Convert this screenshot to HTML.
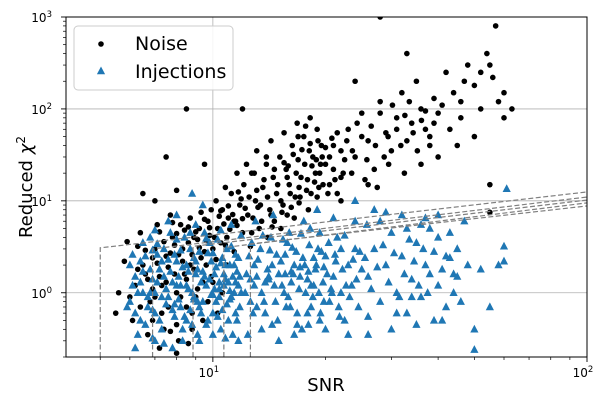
<!DOCTYPE html>
<html><head><meta charset="utf-8"><style>
body{margin:0;background:#fff}
svg{display:block;font-family:"DejaVu Sans","Liberation Sans",sans-serif}
</style></head><body>
<svg id="c" width="609" height="405"></svg>
<script>
const noiseSnr=[6.2,6.5,6.8,7.0,7.2,7.5,7.8,8.0,8.3,8.6,8.9,9.2,9.5,9.8,6.0,6.3,6.6,6.9,7.3,7.6,7.9,8.2,8.5,8.8,9.1,9.4,9.7,10.0,6.1,6.4,7.1,7.4,7.7,8.1,8.4,8.7,9.0,9.3,9.6,9.9,5.6,5.8,5.5,5.9,6.7,7.2,8.0,8.6,
10.3,10.6,10.9,11.2,11.5,11.8,12.1,12.4,12.7,13.0,13.3,13.6,13.9,14.2,14.5,14.8,15.1,15.4,15.7,16.0,16.3,16.6,16.9,17.2,17.5,17.8,18.1,18.4,18.7,19.0,19.3,19.6,10.5,11.0,11.4,12.0,12.6,13.2,14.0,14.6,15.2,15.8,16.5,17.0,18.0,19.0,10.2,10.8,11.6,12.3,13.1,14.3,15.5,16.8,18.2,
20,21,22,23,24,25,26,27,28,29,30,31,32,33,34,35,36,37,38,39,40,42,44,46,48,50,52,54,56,58,60,63,20.5,21.5,22.5,23.5,25.5,27.5,29.5,32.5,36,40,45,50,55,57,28,33,12,8.5,7.5,9.5,6.5,7,8,24,26,22,55,
7.1,7.4,7.7,8.0,8.3,8.6,8.9,9.2,9.5,9.8,10.1,10.4,10.7,11.0,11.3,11.6,11.9,12.2,7.2,7.5,7.8,8.1,8.4,8.7,9.0,9.3,9.6,9.9,10.2,10.5,10.8,11.1,11.4,11.7,12.0,6.3,6.6,6.9,6.4,6.7,7.0,7.3,7.6,7.9,8.2,8.5,8.8,9.1,9.4,9.7,10.0,10.3,10.6,10.9,8.0,8.8,6.9,7.7,
12.5,12.8,13.1,13.4,13.7,14.0,14.3,14.6,14.9,15.2,15.5,15.8,16.1,16.4,16.7,17.0,17.3,17.6,17.9,18.2,18.5,18.8,19.1,19.4,19.7,20.0,20.5,21.0,21.5,22.0,12.7,13.5,14.4,15.3,16.2,17.1,18.3,19.2,20.3,21.2,22.3,16.9,17.7,19.5,13.9,12.9,15.9,18.9,20.8,
22.8,23.6,24.3,25.0,25.8,26.5,27.2,28.0,28.7,29.4,30.2,31.0,31.8,32.6,33.5,34.3,35.2,36.1,37.0,38.0,39.0,41.0,43.0,46.0,47,52,55,60];
const noiseChi=[1.2,2.0,0.8,3.0,1.5,2.5,4.0,1.0,2.2,3.5,1.8,5.0,2.8,4.2,0.9,3.2,1.6,2.4,0.6,1.9,3.3,5.5,0.7,2.6,3.8,1.3,6.0,3.0,0.5,4.5,5.5,0.4,7.0,0.3,4.8,6.5,0.9,7.5,2.0,8.0,1.0,2.2,0.6,3.6,0.35,0.25,0.22,0.28,
5,8,4,12,6,9,15,7,20,10,5,14,25,8,18,12,30,9,22,15,40,11,28,18,50,13,35,24,16,60,20,30,3.5,6.5,2.8,4.5,3.2,8.5,4.0,6.0,5.0,7.0,6.5,9.5,8.0,11,10,14,20,25,35,45,55,70,80,
25,40,18,60,30,90,45,22,120,55,35,80,150,45,70,200,100,60,40,130,90,250,150,80,300,180,100,400,220,120,150,100,15,12,28,20,17,14,25,20,25,30,40,50,15,800,1000,400,100,100,30,25,12,10,13,200,15,10,7.5,
2.1,3.6,2.7,4.4,3.0,5.2,4.0,3.1,6.3,5.1,4.0,6.8,5.6,8.8,7.1,5.4,10.5,8.3,4.6,1.3,5.8,2.6,1.6,2.0,4.6,2.4,3.7,1.5,2.3,7.8,3.3,4.9,6.0,12.5,6.4,1.8,2.9,1.1,0.7,1.4,0.9,1.2,0.7,1.6,0.9,1.4,0.6,1.1,0.5,0.8,1.3,0.6,1.0,2.0,0.45,0.4,0.5,0.38,
11,6.5,13,9,17,11,7,22,15,10,26,18,12,32,20,14,36,25,17,42,30,20,45,25,15,38,30,22,55,35,4.5,6.0,5.2,7.5,8.5,11,12,14,12,17,20,50,65,40,30,20,24,28,48,
45,35,70,50,28,65,40,90,30,50,110,60,40,85,120,55,35,75,95,50,70,110,60,120,200,250,300,80];
const injSnr=[6.0,6.2,6.4,6.6,6.8,7.0,7.2,7.4,7.6,7.8,8.0,8.2,8.4,8.6,8.8,9.0,9.2,9.4,9.6,9.8,10.0,10.2,10.4,10.6,10.8,11.0,11.2,11.4,11.6,11.8,6.1,6.3,6.5,6.7,6.9,7.1,7.3,7.5,7.7,7.9,8.1,8.3,8.5,8.7,8.9,9.1,9.3,9.5,9.7,9.9,10.1,10.3,10.5,10.7,10.9,11.1,11.3,11.5,11.7,11.9,5.9,6.0,6.2,7.0,7.8,8.5,9.0,7.6,6.8,8.0,9.4,
12.2,12.5,12.8,13.1,13.4,13.7,14.0,14.3,14.6,14.9,15.2,15.5,15.8,16.1,16.4,16.7,17.0,17.3,17.6,17.9,18.2,18.5,18.8,19.1,19.4,19.7,20.0,20.5,21.0,21.5,22.0,22.5,23.0,23.5,24.0,24.5,25.0,12.4,13.0,13.5,14.5,15.0,16.0,16.5,17.5,18.0,19.0,20.0,21.0,22.0,23.0,24.0,12.9,13.8,14.8,15.6,17.1,18.6,19.8,21.3,
26,27,28,29,30,31,32,33,34,35,36,37,38,40,41,42,44,45,46,48,50,52,55,58,60,61,60,26,28,30,32,35,38,43,47,50,42,36,27,8.8,24,
6.5,7.3,8.2,9.1,10.4,11.5,6.9,7.9,8.9,10.0,11.1,12.6,14.1,16.2,18.3,20.8,
6.1,6.3,6.5,6.7,6.9,7.1,7.3,7.5,7.7,7.9,8.1,8.3,8.5,8.7,8.9,9.1,9.3,9.5,9.7,9.9,10.1,10.3,10.5,10.7,10.9,11.1,11.3,11.5,11.7,11.9,6.2,6.4,6.6,6.8,7.0,7.2,7.4,7.6,7.8,8.0,8.2,8.4,8.6,8.8,9.0,9.2,9.4,9.6,9.8,10.0,10.2,10.4,10.6,10.8,11.0,11.2,11.4,11.6,11.8,6.9,7.4,8.3,9.2,10.0,10.8,11.7,6.4,7.1,8.0,8.7,9.6,10.5,11.2,7.0,
12.3,12.6,12.9,13.2,13.5,13.8,14.1,14.4,14.7,15.0,15.3,15.6,15.9,16.2,16.5,16.8,17.1,17.4,17.7,18.0,18.3,18.6,18.9,19.2,19.5,19.8,20.2,20.7,21.2,21.7,22.2,22.7,23.2,23.7,24.2,24.7,12.7,13.6,14.2,15.4,16.3,17.2,18.1,19.3,20.4,22.5,14.4,16.8,19.3,21.8,13.1,15.7,17.9,
25.5,26.5,27.5,28.5,29.5,30.5,31.5,32.5,33.5,34.5,35.5,36.5,37.5,39,40,41,43,44,25.8,29,33,37,40,26,31,34,39,45];
const injChi=[0.8,1.5,0.5,2.5,1.0,0.6,1.8,3.0,0.9,1.3,2.2,0.7,4.0,1.1,0.45,1.6,2.8,0.8,1.2,3.5,0.6,1.9,0.9,2.4,1.4,0.5,3.2,1.0,1.7,0.7,1.2,0.35,3.5,0.7,1.4,2.6,0.4,1.1,4.5,0.55,1.5,0.3,2.0,3.0,0.9,0.35,1.3,4.5,0.5,2.2,1.1,3.8,0.4,1.6,0.75,2.0,0.35,2.6,1.2,4.2,0.7,2.0,0.25,0.3,0.25,0.5,5.5,6.0,4.0,7.0,9.0,
1.0,2.5,0.6,1.5,3.0,0.8,1.8,4.0,1.2,0.5,2.2,1.0,3.5,0.7,1.6,2.8,1.1,0.4,2.0,1.4,5.0,0.9,1.8,3.0,0.6,1.3,2.5,0.8,1.5,4.0,1.0,0.5,2.0,1.2,3.0,0.7,1.8,0.35,6.0,0.4,7.0,0.3,4.5,0.35,6.0,0.45,8.0,0.4,6.5,3.0,0.35,6.0,2.0,1.3,2.6,1.6,1.9,2.4,1.9,2.2,
1.5,3.0,0.8,2.0,4.5,1.0,2.5,0.6,1.4,3.5,0.9,2.0,5.0,1.2,0.5,2.5,1.0,3.0,0.8,2.0,0.4,1.8,0.7,2.0,2.2,13.5,3.2,0.35,6.0,0.4,7.0,0.45,1.6,4.5,6.0,0.24,0.7,5.5,8.0,12,10,
1.0,0.9,1.2,0.8,1.1,1.3,0.65,0.75,0.85,0.95,1.05,1.4,1.5,1.7,1.2,1.0,
2.6,1.0,1.7,0.9,2.9,1.3,2.2,0.75,1.7,2.6,0.85,1.9,1.2,0.65,2.4,1.8,0.6,1.5,2.7,0.95,1.6,0.55,2.1,1.2,3.0,0.85,1.5,0.6,2.4,1.0,0.6,1.3,0.45,1.8,1.0,0.5,1.5,2.3,0.65,1.2,2.9,0.55,1.7,1.0,2.2,0.7,1.7,0.45,1.4,2.7,0.8,1.3,0.65,2.0,1.3,0.9,2.0,0.5,1.5,0.32,0.28,0.4,0.3,0.35,0.32,0.3,2.2,3.4,3.8,4.5,3.9,4.8,5.5,4.8,
1.6,0.8,1.2,2.3,1.0,0.6,1.4,2.0,0.8,1.6,1.2,2.6,0.9,1.3,2.0,0.6,1.5,2.4,1.0,1.7,0.7,1.2,2.0,1.0,2.8,0.8,1.6,1.1,2.6,0.7,1.8,1.2,0.9,2.3,1.4,2.8,3.5,4.2,2.9,3.8,3.1,4.4,3.3,4.5,3.5,4.2,0.45,0.45,0.5,0.55,0.7,0.7,0.6,
2.4,1.1,1.9,3.3,1.3,2.7,0.9,1.6,3.8,2.2,1.2,3.0,1.0,2.8,4.0,1.8,2.4,1.6,5.5,7.5,5.0,6.5,7.0,0.55,0.6,0.9,0.5,1.5];
const threshStart=[5.0,6.9,8.85,10.7,12.6];
const threshChiStart=[3.08,3.0,3.2,3.1,3.4];
const threshChiEnd=[12.5,11.0,10.2,9.5,8.8];
const xTicks=[10,100], xTickLabels=["1","2"];
const yTicks=[1,10,100,1000], yTickLabels=["0","1","2","3"];

const NS="http://www.w3.org/2000/svg";
const svg=document.getElementById('c');
const L=66,R=587,T=17,B=357;
const xmin=4.05,xmax=100,ymin=0.2,ymax=1000;
const X=v=>L+(Math.log10(v)-Math.log10(xmin))/(Math.log10(xmax)-Math.log10(xmin))*(R-L);
const Y=v=>B-(Math.log10(v)-Math.log10(ymin))/(Math.log10(ymax)-Math.log10(ymin))*(B-T);
function el(t,a,p){const e=document.createElementNS(NS,t);for(const k in a)e.setAttribute(k,a[k]);(p||svg).appendChild(e);return e;}

const defs=el('defs',{});
const cp=el('clipPath',{id:'cp'},defs);el('rect',{x:L,y:T,width:R-L,height:B-T},cp);

const grid=el('g',{});


xTicks.forEach(v=>{if(X(v)<R-1)el('line',{x1:X(v),x2:X(v),y1:T,y2:B,stroke:'#b0b0b0','stroke-width':0.8},grid);});
yTicks.forEach(v=>{if(Y(v)>T+1)el('line',{x1:L,x2:R,y1:Y(v),y2:Y(v),stroke:'#b0b0b0','stroke-width':0.8},grid);});

const plot=el('g',{'clip-path':'url(#cp)'});
const gN=el('g',{},plot);


noiseSnr.forEach((s,i)=>{const c=el('circle',{cx:X(s),cy:Y(noiseChi[i]),r:2.8,fill:'#000'},gN);

});
const gI=el('g',{},plot);


injSnr.forEach((s,i)=>{const x=X(s),y=Y(injChi[i]);const p=el('polygon',{points:`${x},${y-4.6} ${x-4.1},${y+3.2} ${x+4.1},${y+3.2}`,fill:'#1f77b4'},gI);

});
const gT=el('g',{},plot);


threshStart.forEach((s,i)=>{const l=el('polyline',{points:`${X(s)},${B} ${X(s)},${Y(threshChiStart[i])} ${X(xmax)},${Y(threshChiEnd[i])}`,fill:'none',stroke:'#808080','stroke-width':1.2,'stroke-dasharray':'5,2.5'},gT);

});

const ax=el('g',{});


el('rect',{x:L,y:T,width:R-L,height:B-T,fill:'none',stroke:'#000','stroke-width':1},ax);
for(let d=0;d<3;d++)for(let m=1;m<10;m++){const v=Math.pow(10,d)*m;if(v<xmin||v>xmax)continue;const big=m==1;el('line',{x1:X(v),x2:X(v),y1:B,y2:B+(big?5:3),stroke:'#000','stroke-width':big?0.9:0.7},ax);}
for(let d=-1;d<4;d++)for(let m=1;m<10;m++){const v=Math.pow(10,d)*m;if(v<ymin-1e-9||v>ymax+1e-9)continue;const big=m==1;el('line',{x1:L,x2:L-(big?5:3),y1:Y(v),y2:Y(v),stroke:'#000','stroke-width':big?0.9:0.7},ax);}
xTicks.forEach((v,i)=>{const t=el('text',{x:X(v)-4,y:B+20,'font-size':12,'text-anchor':'middle'},ax);t.textContent='10';
const s=el('tspan',{dy:-5,'font-size':8.5},t);s.textContent=xTickLabels[i];

});
yTicks.forEach((v,i)=>{const t=el('text',{x:L-14,y:Y(v)+5,'font-size':12,'text-anchor':'end'},ax);t.textContent='10';
const s=el('tspan',{dy:-5,'font-size':8.5},t);s.textContent=yTickLabels[i];

});
</script>
<svg style="position:absolute;left:0;top:0" width="609" height="405">
<text x="326" y="391" font-size="18" text-anchor="middle" font-family="DejaVu Sans,sans-serif">SNR</text>
<text transform="translate(32,187) rotate(-90)" font-size="18" text-anchor="middle" font-family="DejaVu Sans,sans-serif">Reduced <tspan font-style="italic">χ</tspan><tspan dy="-7" font-size="12">2</tspan></text>
<g>
<rect x="74" y="26" width="159" height="64" rx="4" fill="#fff" fill-opacity="0.85" stroke="#ccc"/>
<circle cx="101" cy="44" r="2.8" fill="#000"/>
<text x="135" y="50" font-size="19" font-family="DejaVu Sans,sans-serif">Noise</text>
<polygon points="101,66.5 96.9,74.3 105.1,74.3" fill="#1f77b4"/>
<text x="135" y="78" font-size="19" font-family="DejaVu Sans,sans-serif">Injections</text>
</g>
</svg>
</body></html>
